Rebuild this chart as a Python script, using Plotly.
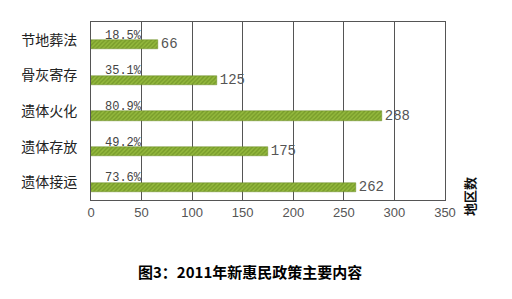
import plotly.graph_objects as go

categories = ["节地葬法", "骨灰寄存", "遗体火化", "遗体存放", "遗体接运"]
counts = [66, 125, 288, 175, 262]
percents = ["18.5%", "35.1%", "80.9%", "49.2%", "73.6%"]
x_ticks = [0, 50, 100, 150, 200, 250, 300, 350]

fig = go.Figure()
fig.add_trace(go.Bar(
    y=categories, x=counts, orientation="h",
    width=0.26, offset=0.01,
    marker=dict(color="#8cb43a",
                line=dict(color="#6a8a25", width=0.5),
                pattern=dict(shape="/", fgcolor="#b2d752", bgcolor="#7a9e2c", size=3, solidity=0.45)),
    text=[str(v) for v in counts], textposition="outside", cliponaxis=False,
    constraintext="none",
    textfont=dict(family="Liberation Mono, DejaVu Sans Mono", size=14, color="#555555"),
    hoverinfo="skip",
))

for c, p in zip(categories, percents):
    fig.add_annotation(x=0, y=c, text=p, showarrow=False, xanchor="left", yanchor="middle",
                       xshift=12, yshift=4,
                       font=dict(family="Liberation Mono, DejaVu Sans Mono", size=12, color="#444444"))

fig.add_annotation(xref="paper", yref="paper", x=1.07, y=-0.1, text="<b>地区数</b>", textangle=-90,
                   showarrow=False, xanchor="center", yanchor="bottom",
                   font=dict(family="Noto Sans CJK SC", size=13, color="#111111"))

fig.add_annotation(xref="paper", yref="paper", x=0.45, y=-0.4, text="<b>图3：2011年新惠民政策主要内容</b>",
                   showarrow=False, xanchor="center", yanchor="middle",
                   font=dict(family="Noto Sans CJK SC", size=15, color="#000000"))

fig.update_xaxes(range=[0, 350], tickvals=x_ticks, showgrid=True, gridcolor="#555555", gridwidth=1,
                 showline=True, linecolor="#555555", mirror=True, zeroline=False,
                 tickfont=dict(family="Liberation Sans", size=13, color="#555555"), ticks="")
fig.update_yaxes(autorange="reversed", showline=True, linecolor="#555555", mirror=True,
                 tickfont=dict(family="Noto Sans CJK SC", size=14, color="#222222"),
                 ticks="", ticklabelstandoff=10)

fig.update_layout(width=512, height=299, margin=dict(l=91, r=67, t=22, b=99),
                  plot_bgcolor="white", paper_bgcolor="white", showlegend=False, bargap=0)

fig.write_html("out.html")
